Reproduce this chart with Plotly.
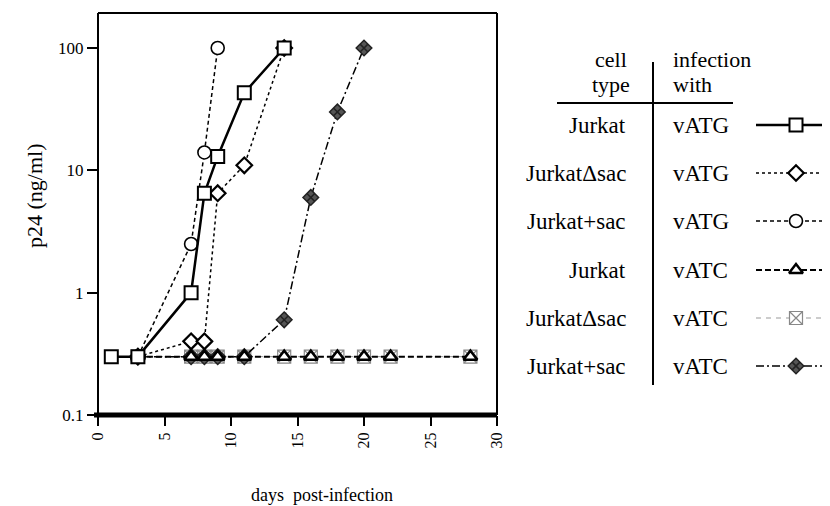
import plotly.graph_objects as go

# ---------------- data ----------------
days_jurkat_vatg = [1, 3, 7, 8, 9, 11, 14]
p24_jurkat_vatg = [0.3, 0.3, 1.0, 6.5, 13, 43, 100]

days_dsac_vatg = [3, 7, 8, 9, 11, 14]
p24_dsac_vatg = [0.3, 0.4, 0.4, 6.5, 11, 100]

days_sac_vatg = [3, 7, 8, 9]
p24_sac_vatg = [0.3, 2.5, 14, 100]

days_jurkat_vatc = [3, 7, 8, 9, 11, 14, 16, 18, 20, 22, 28]
p24_jurkat_vatc = [0.3, 0.3, 0.3, 0.3, 0.3, 0.3, 0.3, 0.3, 0.3, 0.3, 0.3]

days_dsac_vatc = [3, 7, 8, 9, 11, 14, 16, 18, 20, 22, 28]
p24_dsac_vatc = [0.3, 0.3, 0.3, 0.3, 0.3, 0.3, 0.3, 0.3, 0.3, 0.3, 0.3]

days_sac_vatc = [3, 7, 8, 9, 11, 14, 16, 18, 20]
p24_sac_vatc = [0.3, 0.3, 0.3, 0.3, 0.3, 0.6, 6, 30, 100]

cell_types = ["Jurkat", "JurkatΔsac", "Jurkat+sac", "Jurkat", "JurkatΔsac", "Jurkat+sac"]
viruses = ["vATG", "vATG", "vATG", "vATC", "vATC", "vATC"]

x_tick_vals = [0, 5, 10, 15, 20, 25, 30]
y_tick_vals = [0.1, 1, 10, 100]
y_tick_text = ["0.1", "1", "10", "100"]

# ---------------- styles ----------------
W, H = 830, 506
OFF = 8  # page body margin offset compensation
FONT = "Liberation Serif"

styles = [
    dict(line=dict(color="black", width=2.5, dash="solid"),
         marker=dict(symbol="square", size=13, color="white", line=dict(color="black", width=2))),
    dict(line=dict(color="black", width=1.5, dash="dot"),
         marker=dict(symbol="diamond", size=12, color="white", line=dict(color="black", width=2.2))),
    dict(line=dict(color="black", width=1.5, dash="4px,3px"),
         marker=dict(symbol="circle", size=13, color="white", line=dict(color="black", width=1.6))),
    dict(line=dict(color="black", width=2, dash="6px,3px"),
         marker=dict(symbol="triangle-up", size=12, color="white", line=dict(color="black", width=2.5))),
    dict(line=dict(color="#999999", width=1, dash="5px,5px"),
         marker=dict(symbol="square-x", size=13, color="white", line=dict(color="#888888", width=1.2))),
    dict(line=dict(color="black", width=1.5, dash="8px,3px,2px,3px"),
         marker=dict(symbol="diamond-x", size=12, color="#555555", line=dict(color="#222222", width=1.5))),
]

series = [
    (days_jurkat_vatg, p24_jurkat_vatg),
    (days_dsac_vatg, p24_dsac_vatg),
    (days_sac_vatg, p24_sac_vatg),
    (days_jurkat_vatc, p24_jurkat_vatc),
    (days_dsac_vatc, p24_dsac_vatc),
    (days_sac_vatc, p24_sac_vatc),
]
draw_order = [4, 5, 3, 1, 2, 0]

fig = go.Figure()
for i in draw_order:
    d, v = series[i]
    fig.add_trace(go.Scatter(x=d, y=v, mode="lines+markers",
                             line=styles[i]["line"], marker=styles[i]["marker"],
                             showlegend=False, cliponaxis=False, hoverinfo="skip"))

# ---------------- legend table (pixel overlay axis) ----------------
row_y = [125, 173, 221, 270, 318, 366]
for i, yy in enumerate(row_y):
    fig.add_trace(go.Scatter(x=[756, 830], y=[yy, yy], mode="lines", line=styles[i]["line"],
                             xaxis="x2", yaxis="y2", showlegend=False, hoverinfo="skip"))
    fig.add_trace(go.Scatter(x=[796], y=[yy], mode="markers", marker=styles[i]["marker"],
                             xaxis="x2", yaxis="y2", showlegend=False, hoverinfo="skip"))

TXT = dict(family=FONT, size=23, color="black")
annotations = []
for ct, vi, yy in zip(cell_types, viruses, row_y):
    annotations.append(dict(x=628, y=yy, xref="x2", yref="y2", text=ct, showarrow=False,
                            xanchor="right", yanchor="middle", font=TXT))
    annotations.append(dict(x=671, y=yy, xref="x2", yref="y2", text=vi, showarrow=False,
                            xanchor="left", yanchor="middle", font=TXT))
HDR = dict(family=FONT, size=22, color="black")
for txt, xx, yy, anc in [("cell", 611, 59, "center"), ("type", 611, 84, "center"),
                         ("infection", 671, 59, "left"), ("with", 671, 84, "left")]:
    annotations.append(dict(x=xx, y=yy, xref="x2", yref="y2", text=txt, showarrow=False,
                            xanchor=anc, yanchor="middle", font=HDR))
# axis titles
annotations.append(dict(x=322, y=495, xref="x2", yref="y2", text="days  post-infection", showarrow=False,
                        xanchor="center", yanchor="middle", font=dict(family=FONT, size=18, color="black")))
annotations.append(dict(x=34, y=196, xref="x2", yref="y2", text="p24 (ng/ml)", showarrow=False,
                        textangle=-90, xanchor="center", yanchor="middle",
                        font=dict(family=FONT, size=22, color="black")))

shapes = [
    # table lines
    dict(type="line", xref="x2", yref="y2", x0=653, x1=653, y0=62, y1=385, line=dict(color="black", width=2)),
    dict(type="line", xref="x2", yref="y2", x0=557, x1=733, y0=103, y1=103, line=dict(color="black", width=2)),
    # plot frame
    dict(type="line", xref="x domain", yref="y domain", x0=0, x1=0, y0=0, y1=1, line=dict(color="black", width=2)),
    dict(type="line", xref="x domain", yref="y domain", x0=0, x1=1, y0=1, y1=1, line=dict(color="black", width=2)),
    dict(type="line", xref="x domain", yref="y domain", x0=1, x1=1, y0=0, y1=1, line=dict(color="black", width=2)),
    dict(type="line", xref="x domain", yref="y domain", x0=-0.01, x1=1, y0=0, y1=0, line=dict(color="black", width=5)),
]

# target pixel positions of the plot frame (in window coordinates)
px_left, px_right, px_top, px_bottom = 98, 497, 13, 415
y_top_log = 2 + (48 - px_top) / 122.3

fig.update_layout(
    width=W, height=H,
    margin=dict(l=0, r=0, t=0, b=0, autoexpand=False),
    paper_bgcolor="white", plot_bgcolor="rgba(0,0,0,0)",
    showlegend=False,
    font=dict(family=FONT, color="black"),
    xaxis=dict(domain=[(px_left - OFF) / W, (px_right - OFF) / W], range=[0, 30], showgrid=False,
               zeroline=False, showline=False, tickvals=x_tick_vals, ticks="outside", ticklen=10,
               tickwidth=2, tickcolor="black", tickangle=-90,
               tickfont=dict(family=FONT, size=16, color="black"), anchor="y", automargin=False),
    yaxis=dict(domain=[(H - (px_bottom - OFF)) / H, (H - (px_top - OFF)) / H], type="log",
               range=[-1, y_top_log], showgrid=False, zeroline=False, showline=False,
               tickvals=y_tick_vals, ticktext=y_tick_text, ticks="outside", ticklen=10, tickwidth=2,
               tickcolor="black", tickfont=dict(family=FONT, size=17, color="black"), anchor="x",
               automargin=False),
    xaxis2=dict(domain=[0, 1], range=[OFF, W + OFF], visible=False, anchor="y2", fixedrange=True,
                automargin=False),
    yaxis2=dict(domain=[0, 1], range=[H + OFF, OFF], visible=False, anchor="x2", fixedrange=True,
                automargin=False),
    annotations=annotations,
    shapes=shapes,
)

fig.write_html("out.html")
